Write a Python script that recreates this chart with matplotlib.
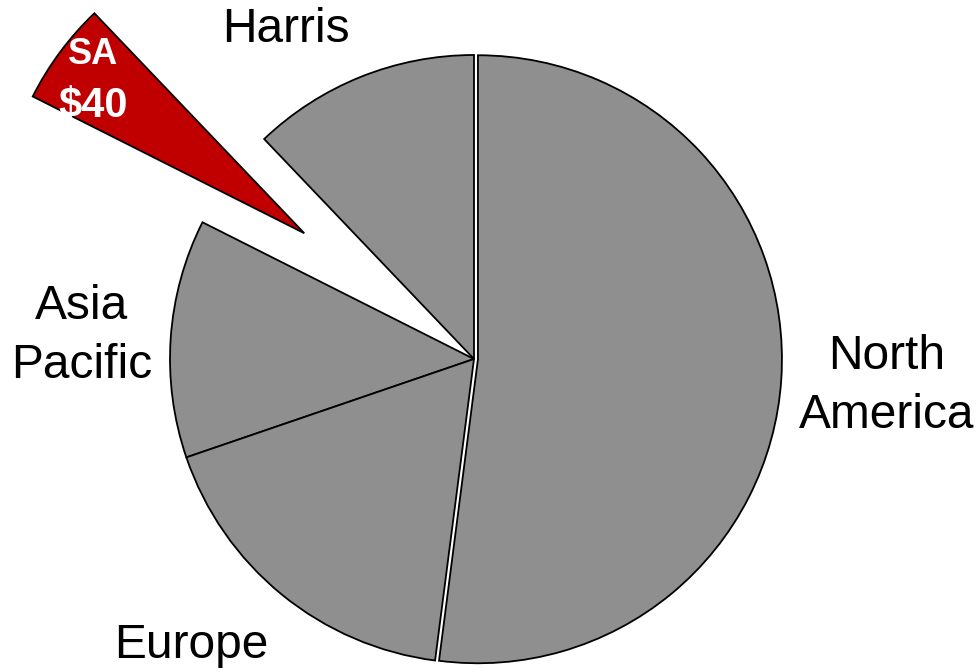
import matplotlib
matplotlib.use("Agg")
import matplotlib.pyplot as plt

# Data (counter-clockwise from 12 o'clock)
regions = ["Harris", "SA", "Asia\nPacific", "Europe", "North\nAmerica"]
values = [89, 40, 93, 130, 382]
explode = [0.0, 0.695, 0.0, 0.0, 0.013]
colors = ["#8f8f8f", "#c00000", "#8f8f8f", "#8f8f8f", "#8f8f8f"]

plt.rcParams['font.family'] = ['Liberation Sans', 'DejaVu Sans']

W, H = 977, 672
fig = plt.figure(figsize=(W / 100, H / 100), dpi=100)
ax = fig.add_axes([0, 0, 1, 1])
ax.axis("off")

R = 304.0
cx, cy = 474.0, 672 - 359.0

ax.pie(values, explode=explode, colors=colors, startangle=90, counterclock=True,
       radius=1.0, center=(0, 0), frame=False,
       wedgeprops=dict(edgecolor="black", linewidth=1.3))
ax.set_xlim(-cx / R, (W - cx) / R)
ax.set_ylim(-cy / R, (H - cy) / R)
ax.set_aspect("auto")


def px(x, y):
    return ((x - cx) / R, ((H - y) - cy) / R)


label_pos = {
    "Harris": (286, 30),
    "Asia\nPacific": (82, 336),
    "Europe": (191, 646),
    "North\nAmerica": (887, 386),
}
for name, (x, y) in label_pos.items():
    ax.text(*px(x, y), name, ha="center", va="center", fontsize=34.5,
            color="black", linespacing=1.42)

ax.text(*px(93, 55), regions[1], ha="center", va="center", fontsize=26,
        fontweight="bold", color="white")
ax.text(*px(93, 106), "$%d" % values[1], ha="center", va="center", fontsize=30,
        fontweight="bold", color="white")

fig.savefig("out.png", dpi=100)
